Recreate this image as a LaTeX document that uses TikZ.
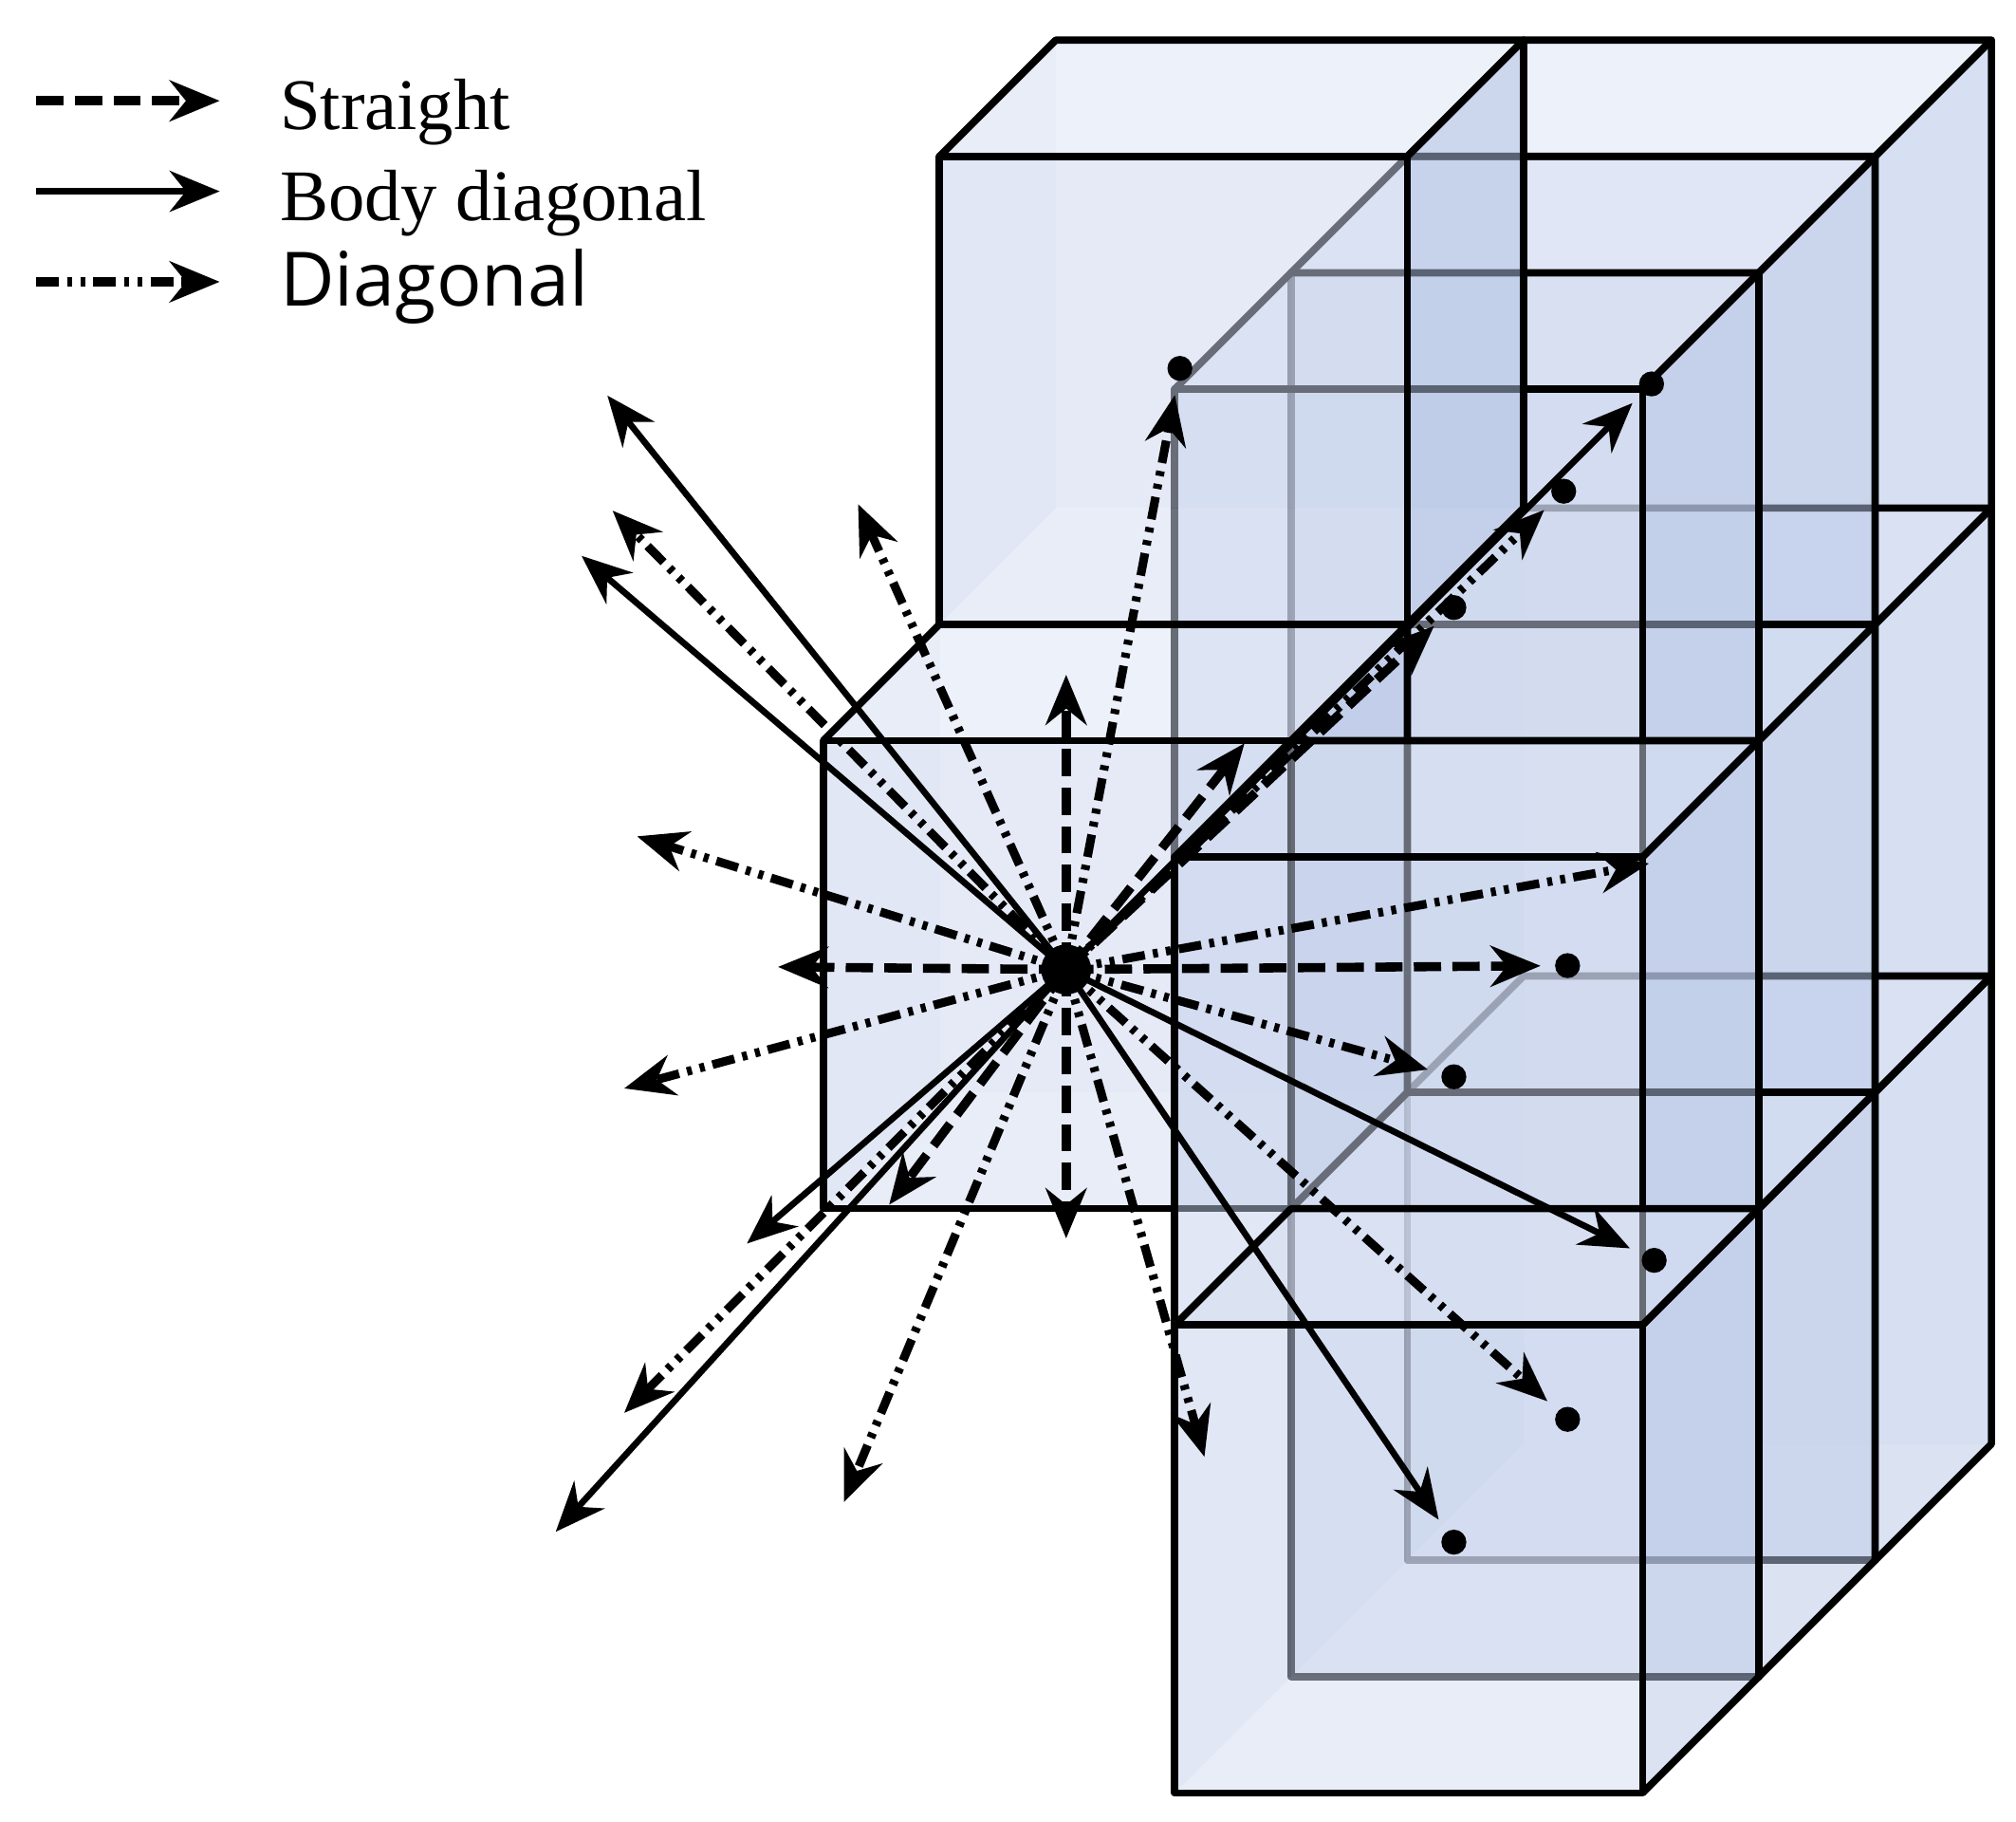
\documentclass[tikz,border=0pt]{standalone}
\usepackage{fontspec}
\setmainfont{Liberation Serif}
\newfontfamily\sansf{Open Sans}
\usetikzlibrary{arrows.meta}
\definecolor{frontc}{RGB}{205,215,238}
\definecolor{sidec}{RGB}{165,185,225}
\definecolor{topc}{RGB}{225,232,246}
\tikzset{
  edge/.style={line width=1.6pt,line join=round},
  arr/.style={-{Stealth[length=11pt,width=9pt]},line width=1.4pt},
  straight/.style={arr,line width=2pt,dash pattern=on 6pt off 2.5pt},
  body/.style={arr},
  diag/.style={arr,line width=1.9pt,dash pattern=on 5pt off 1.8pt on 1.1pt off 1.8pt on 1.1pt off 1.8pt},
  dot/.style={circle,fill=black,inner sep=0pt,minimum size=5.5pt},
}
\newcommand{\PP}[3]{({637+362*(#1)+90*(#3)},{935-362*(#2)-90*(#3)})}
\newcommand{\vox}[3]{%
  \pgfmathsetmacro{\ia}{#1}\pgfmathsetmacro{\ib}{#1+1}%
  \pgfmathsetmacro{\ja}{#2}\pgfmathsetmacro{\jb}{#2+1}%
  \pgfmathsetmacro{\ka}{#3}\pgfmathsetmacro{\kb}{#3+1}%
  \fill[frontc,fill opacity=0.25] \PP{\ia}{\ja}{\kb} -- \PP{\ib}{\ja}{\kb} -- \PP{\ib}{\jb}{\kb} -- \PP{\ia}{\jb}{\kb} -- cycle;
  \fill[sidec,fill opacity=0.22] \PP{\ia}{\ja}{\ka} -- \PP{\ia}{\ja}{\kb} -- \PP{\ia}{\jb}{\kb} -- \PP{\ia}{\jb}{\ka} -- cycle;
  \fill[topc,fill opacity=0.25] \PP{\ia}{\ja}{\ka} -- \PP{\ib}{\ja}{\ka} -- \PP{\ib}{\ja}{\kb} -- \PP{\ia}{\ja}{\kb} -- cycle;
  \fill[sidec,fill opacity=0.35] \PP{\ib}{\ja}{\ka} -- \PP{\ib}{\ja}{\kb} -- \PP{\ib}{\jb}{\kb} -- \PP{\ib}{\jb}{\ka} -- cycle;
  \fill[topc,fill opacity=0.3] \PP{\ia}{\jb}{\ka} -- \PP{\ib}{\jb}{\ka} -- \PP{\ib}{\jb}{\kb} -- \PP{\ia}{\jb}{\kb} -- cycle;
  \fill[frontc,fill opacity=0.35] \PP{\ia}{\ja}{\ka} -- \PP{\ib}{\ja}{\ka} -- \PP{\ib}{\jb}{\ka} -- \PP{\ia}{\jb}{\ka} -- cycle;
  \draw[edge] \PP{\ia}{\ja}{\ka} -- \PP{\ib}{\ja}{\ka} -- \PP{\ib}{\jb}{\ka} -- \PP{\ia}{\jb}{\ka} -- cycle;
  \draw[edge] \PP{\ia}{\jb}{\ka} -- \PP{\ia}{\jb}{\kb} -- \PP{\ib}{\jb}{\kb} -- \PP{\ib}{\ja}{\kb} -- \PP{\ib}{\ja}{\ka};
  \draw[edge] \PP{\ib}{\jb}{\ka} -- \PP{\ib}{\jb}{\kb};
}
\begin{document}
\begin{tikzpicture}[x=0.01cm,y=-0.01cm]
\useasboundingbox (0,0) rectangle (1560,1409);
\vox{1}{1}{1}\vox{1}{0}{1}\vox{1}{-1}{1}
\vox{1}{1}{0}\vox{1}{0}{0}\vox{1}{-1}{0}
\vox{1}{1}{-1}
\vox{0}{1}{1}
\vox{0}{0}{0}
\vox{1}{0}{-1}\vox{1}{-1}{-1}
\coordinate (H) at (825,750);
\node[dot] (d1) at (913,285) {};
\node[dot] (d2) at (1278,297) {};
\node[dot] (d3) at (1210,380) {};
\node[dot] (d4) at (1125,470) {};
\node[dot] (d5) at (1213,747) {};
\node[dot] (d6) at (1125,833) {};
\node[dot] (d7) at (1280,975) {};
\node[dot] (d8) at (1213,1098) {};
\node[dot] (d9) at (1125,1193) {};
\coordinate (s1) at (825,522);
\coordinate (s2) at (825,958);
\coordinate (s3) at (602,748);
\coordinate (s4) at (963,575);
\coordinate (s5) at (688,932);
\coordinate (b1) at (470,306);
\coordinate (b2) at (450,430);
\coordinate (b3) at (430,1185);
\coordinate (b4) at (578,962);
\coordinate (g1) at (474,395);
\coordinate (g2) at (664,390);
\coordinate (g3) at (493,647);
\coordinate (g4) at (483,842);
\coordinate (g5) at (1276,668);
\coordinate (g6) at (932,1127);
\coordinate (g7) at (653,1162);
\coordinate (g8) at (483,1093);
\draw[straight] (H) -- (s1);
\draw[straight] (H) -- (s2);
\draw[straight] (H) -- (s3);
\draw[straight] (H) -- (s4);
\draw[straight] (H) -- (s5);
\draw[straight,shorten >=3pt] (H) -- (d5);
\draw[straight,shorten >=3pt] (H) -- (d4);
\draw[body] (H) -- (b1);
\draw[body] (H) -- (b2);
\draw[body] (H) -- (b3);
\draw[body] (H) -- (b4);
\draw[body,shorten >=3pt] (H) -- (d2);
\draw[body,shorten >=3pt] (H) -- (d7);
\draw[body,shorten >=3pt] (H) -- (d9);
\draw[diag] (H) -- (g1);
\draw[diag] (H) -- (g2);
\draw[diag] (H) -- (g3);
\draw[diag] (H) -- (g4);
\draw[diag] (H) -- (g5);
\draw[diag] (H) -- (g6);
\draw[diag] (H) -- (g7);
\draw[diag] (H) -- (g8);
\draw[diag,shorten >=3pt] (H) -- (d1);
\draw[diag,shorten >=3pt] (H) -- (d3);
\draw[diag,shorten >=3pt] (H) -- (d6);
\draw[diag,shorten >=3pt] (H) -- (d8);
\node[circle,fill=black,inner sep=0pt,minimum size=11pt] (hub) at (H) {};
\coordinate (l1a) at (28,78); \coordinate (l1b) at (170,78);
\coordinate (l2a) at (28,148); \coordinate (l2b) at (170,148);
\coordinate (l3a) at (28,218); \coordinate (l3b) at (170,218);
\draw[straight] (l1a) -- (l1b);
\draw[body] (l2a) -- (l2b);
\draw[diag] (l3a) -- (l3b);
\node[anchor=west,font=\fontsize{16}{18}\selectfont,inner sep=0pt] (t1) at (216,87) {Straight};
\node[anchor=west,font=\fontsize{16}{18}\selectfont,inner sep=0pt] (t2) at (216,157) {Body diagonal};
\node[anchor=west,font=\sansf\fontsize{16.5}{18}\selectfont,inner sep=0pt] (t3) at (216,222) {Diagonal};
\end{tikzpicture}
\end{document}
